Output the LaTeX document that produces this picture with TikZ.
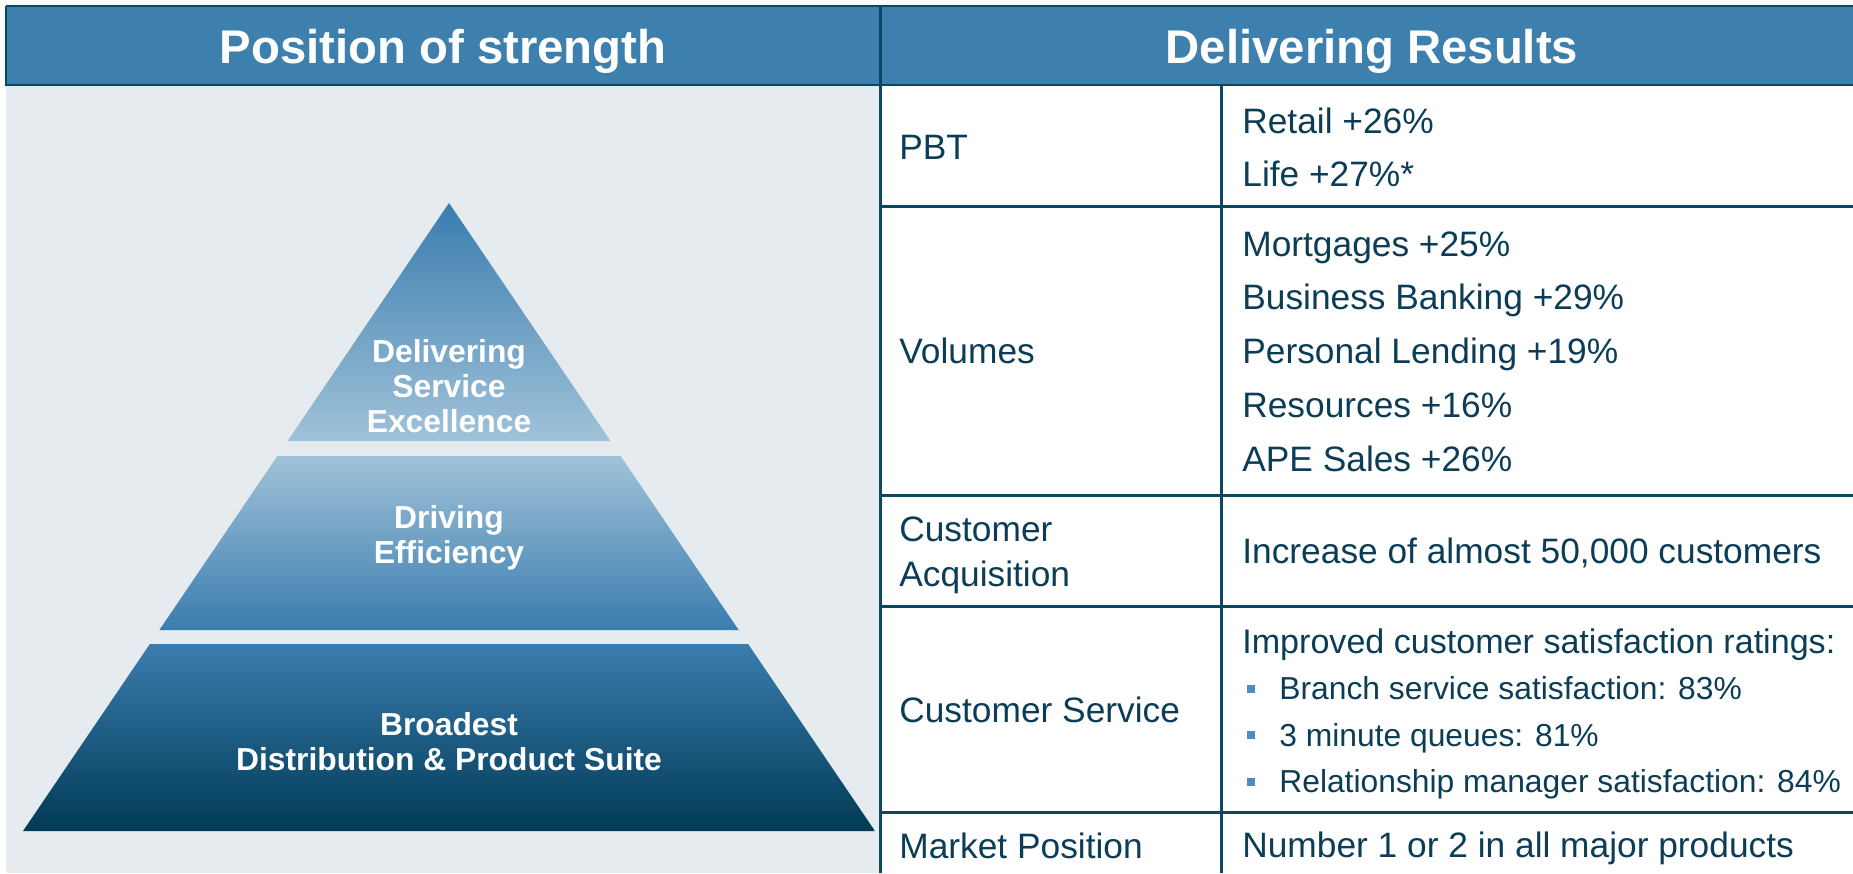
\documentclass[tikz,border=0pt]{standalone}
\usepackage{fontspec}
\setmainfont{Liberation Sans}
\usetikzlibrary{positioning}
\definecolor{headblue}{HTML}{3D7FAD}
\definecolor{rulecol}{HTML}{0F4661}
\definecolor{textcol}{HTML}{0C3D57}
\definecolor{panelgray}{HTML}{E5EBEE}
\definecolor{pyrtop}{HTML}{3A7DAE}
\definecolor{pyrlight}{HTML}{A0C2D9}
\definecolor{pyrdark}{HTML}{003A56}
\definecolor{bulletcol}{HTML}{4A8CC3}
\tikzset{%
  head text/.style={
    text=white,
    anchor=base,
    inner sep=0pt,
    font=\fontsize{26.9}{30}\selectfont\bfseries
  },
  cell text/.style={
    text=textcol,
    anchor=base west,
    inner sep=0pt,
    font=\fontsize{20.1}{25}\selectfont
  },
  bullet text/.style={
    cell text,
    font=\fontsize{18.1}{22}\selectfont
  },
  tier text/.style={
    text=white,
    align=center,
    inner sep=0pt,
    font=\fontsize{18.1}{19.8}\selectfont\bfseries
  },
  table rule/.style={
    rulecol,
    line width=1.7pt
  },
  bullet box/.style={
    fill=bulletcol,
    minimum size=0.16cm,
    inner sep=0pt
  },
}

\begin{document}
\begin{tikzpicture}[x=0.02cm, y=-0.02cm]
\useasboundingbox (0,0) rectangle (1853,873);
\fill[panelgray] (6,85) rectangle (880,873);
\fill[headblue] (6,6) rectangle (1853,85);

% pyramid
\foreach \ytop/\ybot/\ctop/\cbot in {203/441/pyrtop/pyrlight, 456/630/pyrlight/pyrtop, 644/831/pyrtop/pyrdark}
    \shade[top color=\ctop, bottom color=\cbot]
        ({449-0.6783*(\ytop-203)},\ytop) -- ({449+0.6783*(\ytop-203)},\ytop)
        -- ({449+0.6783*(\ybot-203)},\ybot) -- ({449-0.6783*(\ybot-203)},\ybot) -- cycle;

\node[tier text] (tier_top) at (449,386) {Delivering\\Service\\Excellence};
\node[tier text] (tier_mid) at (449,538) {Driving\\Efficiency};
\node[tier text] (tier_bot) at (449,742) {Broadest\\Distribution \& Product Suite};

% headers
\node[head text] (head_left) at (443,63) {Position of strength};
\node[head text] (head_right) at (1372,63) {Delivering Results};

% table rules
\draw[table rule] (6,6) -- (1853,6);
\draw[table rule] (6,6) -- (6,85) -- (880,85);
\foreach \y in {85,206,495,606,812}
    \draw[table rule] (880,\y) -- (1853,\y);
\draw[table rule] (880,6) -- (880,873);
\draw[table rule] (1221,85) -- (1221,873);

% first column
\node[cell text] (lab_pbt) at (899,159) {PBT};
\node[cell text] (lab_vol) at (899,363) {Volumes};
\node[cell text] (lab_acq_a) at (899,541) {Customer};
\node[cell text] (lab_acq_b) at (899,586) {Acquisition};
\node[cell text] (lab_serv) at (899,722) {Customer Service};
\node[cell text] (lab_mkt) at (899,858) {Market Position};

% second column
\node[cell text] (pbt_0) at (1242,133) {Retail +26\%};
\node[cell text] (pbt_1) at (1242,186) {Life +27\%*};
\foreach \txt [count=\i from 0] in {Mortgages +25\%, Business Banking +29\%, Personal Lending +19\%, Resources +16\%, APE Sales +26\%}
    \node[cell text] (vol_\i) at (1242,256+53.75*\i) {\txt};
\node[cell text] (acq_0) at (1242,563) {Increase of almost 50,000 customers};
\node[cell text, font=\fontsize{19.4}{25}\selectfont] (serv_0) at (1242,653) {Improved customer satisfaction ratings:};
\foreach \txt [count=\i] in {Branch service satisfaction: 83\%, 3 minute queues: 81\%, Relationship manager satisfaction: 84\%}
{
    \node[bullet box] (bul_\i) at (1251,{653+46.5*\i-11}) {};
    \node[bullet text] (serv_\i) at (1279,653+46.5*\i) {\txt};
}
\node[cell text] (mkt_0) at (1242,857) {Number 1 or 2 in all major products};
\end{tikzpicture}
\end{document}
